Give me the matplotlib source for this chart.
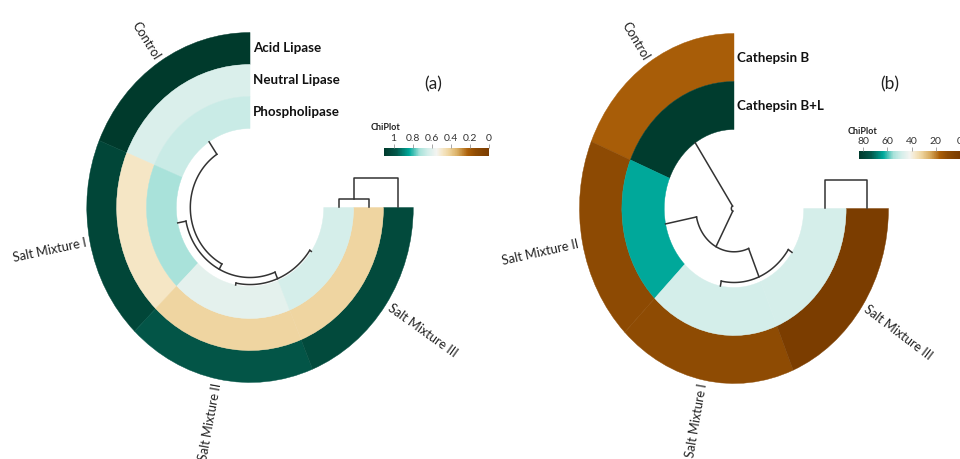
import numpy as np
import matplotlib
matplotlib.use('Agg')
import matplotlib.pyplot as plt
from matplotlib.patches import Wedge
from matplotlib.colors import LinearSegmentedColormap, Normalize
from matplotlib.colorbar import ColorbarBase

plt.rcParams['font.family'] = ['Lato', 'DejaVu Sans']

# ---- panel (a) data ----
samples_a = ['Control', 'Salt Mixture I', 'Salt Mixture II', 'Salt Mixture III']
features_a = ['Acid Lipase', 'Neutral Lipase', 'Phospholipase']
acid_lipase = [1.10, 1.045, 0.98, 1.03]
neutral_lipase = [0.62, 0.485, 0.425, 0.425]
phospholipase = [0.66, 0.725, 0.595, 0.635]
tree_a = [(2, 3, 0.13), (1, 4, 0.60), (0, 5, 1.00)]      # (left, right, height)
feat_tree_a = [(1, 2, 0.31), (0, 3, 1.00)]
ticks_a = [1, 0.8, 0.6, 0.4, 0.2, 0]
vmax_a = 1.1

# ---- panel (b) data ----
samples_b = ['Control', 'Salt Mixture II', 'Salt Mixture I', 'Salt Mixture III']
features_b = ['Cathepsin B', 'Cathepsin B+L']
cathepsin_b = [16.2, 9.6, 10.0, 0.8]
cathepsin_bl = [82.5, 63.3, 48.3, 48.1]
tree_b = [(2, 3, 0.066), (1, 4, 0.47), (0, 5, 1.00)]
feat_tree_b = [(0, 1, 1.00)]
ticks_b = [80, 60, 40, 20, 0]
vmax_b = 83.3

cmap = LinearSegmentedColormap.from_list('chiplot', [
    (0.00, '#7a3c00'), (0.12, '#8e4b03'), (0.20, '#ab5f08'), (0.30, '#d9ae63'),
    (0.38, '#eed49e'), (0.44, '#f5e6c6'), (0.50, '#f4f4f1'), (0.58, '#d4eeea'),
    (0.66, '#a8e2da'), (0.76, '#00a99b'), (0.88, '#03594b'), (1.00, '#003a2c')])

R_IN, R_OUT, R_LAB = 79, 175, 179
LINE = '#333333'


def draw_panel(ax, samples, features, rows, vmax, tree, depth, feat_tree, feat_h):
    norm = Normalize(0, vmax)
    n = len(samples)
    span = 270 / n
    w = (R_OUT - R_IN) / len(features)
    for j, row in enumerate(rows):
        r_o = R_OUT - j * w
        for i, v in enumerate(row):
            t1 = 90 + i * span
            c = cmap(norm(v))
            ax.add_patch(Wedge((0, 0), r_o, t1, t1 + span, width=w,
                               facecolor=c, edgecolor=c, lw=0.3))
        ax.text(3, r_o - w / 2, features[j], ha='left', va='center',
                fontsize=9.6, fontweight='bold', color='#111111')

    # sample labels
    for i, s in enumerate(samples):
        th = 90 + (i + 0.5) * span
        x, y = R_LAB * np.cos(np.radians(th)), R_LAB * np.sin(np.radians(th))
        if 90 < th < 270:
            rot, ha = th - 180, 'right'
        else:
            rot, ha = th, 'left'
        ax.text(x, y, s, rotation=rot, rotation_mode='anchor', transform_rotates_text=True,
                ha=ha, va='center', fontsize=9.2, color='#222222')

    # circular dendrogram of samples
    ang = [90 + (i + 0.5) * span for i in range(n)]
    rad = [R_IN] * n
    for a, b, h in tree:
        r = R_IN - h * depth
        for k in (a, b):
            t = np.radians(ang[k])
            ax.plot([rad[k] * np.cos(t), r * np.cos(t)], [rad[k] * np.sin(t), r * np.sin(t)],
                    color=LINE, lw=1.1)
        tt = np.radians(np.linspace(ang[a], ang[b], 100))
        ax.plot(r * np.cos(tt), r * np.sin(tt), color=LINE, lw=1.1)
        ang.append((ang[a] + ang[b]) / 2)
        rad.append(r)

    # dendrogram of the rings
    fx = [R_OUT - (j + 0.5) * w for j in range(len(features))]
    fy = [0] * len(features)
    for a, b, h in feat_tree:
        y = h * feat_h
        ax.plot([fx[a], fx[a], fx[b], fx[b]], [fy[a], y, y, fy[b]], color=LINE, lw=1.1)
        fx.append((fx[a] + fx[b]) / 2)
        fy.append(y)
    ax.axis('off')


def add_cbar(fig, x0, x1, ytop, ybot, vmax, ticks, title_xy):
    W, H = 960, 459
    cax = fig.add_axes([x0 / W, 1 - ybot / H, (x1 - x0) / W, (ybot - ytop) / H])
    cb = ColorbarBase(cax, cmap=cmap, norm=Normalize(0, vmax), orientation='horizontal',
                      ticks=ticks)
    cb.outline.set_visible(False)
    cax.xaxis.set_ticks_position('top')
    cax.set_xticklabels([f'{t:g}' for t in ticks])
    cax.tick_params(labelsize=7.5, length=3, width=0.6, color='#999999', pad=0.5,
                    labelcolor='#333333')
    cax.invert_xaxis()
    fig.text(title_xy[0] / W, 1 - title_xy[1] / H, 'ChiPlot', fontsize=6.5,
             fontweight='bold', color='#222222', va='center')


fig = plt.figure(figsize=(9.6, 4.59), dpi=100)

ax_a = fig.add_axes([0, 0, 0.5, 1])
ax_a.set_xlim(-268, 246.5)
ax_a.set_ylim(-251.5, 207.5)
draw_panel(ax_a, samples_a, features_a, [acid_lipase, neutral_lipase, phospholipase],
           vmax_a, tree_a, 15, feat_tree_a, 29)
ax_a.text(196, 123.5, '(a)', fontsize=12.5, ha='center', va='center', color='#222222')

ax_b = fig.add_axes([0.5, 0, 0.5, 1])
ax_b.set_xlim(-287.7, 256)
ax_b.set_ylim(-250.5, 208.5)
draw_panel(ax_b, samples_b, features_b, [cathepsin_b, cathepsin_bl],
           vmax_b, tree_b, 76, feat_tree_b, 28)
ax_b.text(176.7, 124.5, '(b)', fontsize=12.5, ha='center', va='center', color='#222222')

add_cbar(fig, 384, 489, 148, 156, vmax_a, ticks_a, (371, 128))
add_cbar(fig, 859, 960, 151, 159, vmax_b, ticks_b, (848, 131))

fig.savefig('out.png', dpi=100)
